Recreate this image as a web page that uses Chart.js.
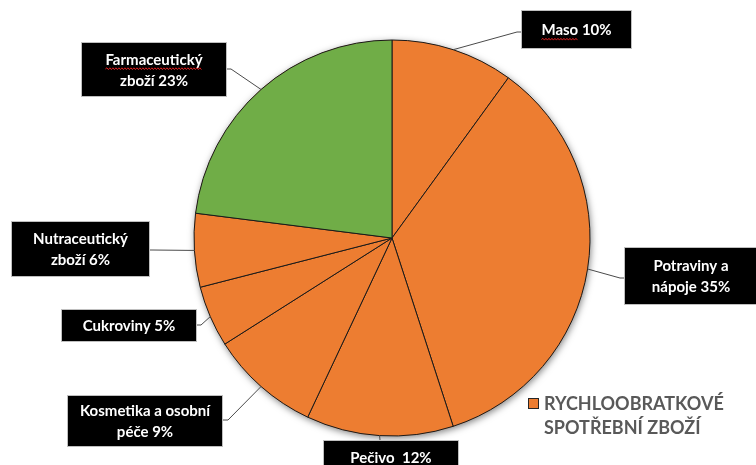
<!DOCTYPE html>
<html>
<head>
<meta charset="utf-8">
<script src="https://cdn.jsdelivr.net/npm/chart.js@4.4.1/dist/chart.umd.min.js"></script>
<style>
  html, body { margin: 0; padding: 0; background: #fff; }
  #wrap { width: 756px; height: 465px; }
</style>
</head>
<body>
<div id="wrap"><canvas id="pie" width="756" height="465"></canvas></div>
<script>
// shares of the market segments, clockwise from 12 o'clock
const categories = ['Maso', 'Potraviny a nápoje', 'Pečivo', 'Kosmetika a osobní péče', 'Cukroviny', 'Nutraceutický zboží', 'Farmaceutický zboží'];
const shares = [10, 35, 12, 9, 5, 6, 23];
const groups = ['fmcg', 'fmcg', 'fmcg', 'fmcg', 'fmcg', 'fmcg', 'pharma'];
const legendLines = ['RYCHLOOBRATKOVÉ', 'SPOTŘEBNÍ ZBOŽÍ'];

const groupColors = { fmcg: '#ED7D31', pharma: '#70AD47' };

// callout boxes: box rect, words on first line, leader elbow + attach point
const callouts = [
  { x: 521, y: 10,  w: 111, h: 39, words: 9, elbow: [517, 32], anchor: [521, 32], spell: true },
  { x: 624, y: 247, w: 134, h: 58, words: 2, elbow: [620, 278], anchor: [624, 278] },
  { x: 323, y: 440, w: 136, h: 34, words: 9, elbow: [380, 440], anchor: [380, 440], sep: '  ' },
  { x: 67,  y: 395, w: 156, h: 52, words: 3, elbow: [228, 420], anchor: [223, 420] },
  { x: 61,  y: 309, w: 136, h: 33, words: 9, elbow: [201, 325], anchor: [197, 325] },
  { x: 11,  y: 221, w: 139, h: 56, words: 1, elbow: [152, 250], anchor: [150, 250] },
  { x: 81,  y: 42,  w: 146, h: 55, words: 1, elbow: [231, 69],  anchor: [227, 69], spell: true }
];

const FONT = 'Lato, "Open Sans", sans-serif';

function labelLines(i) {
  const c = callouts[i];
  const words = categories[i].split(' ');
  words.push(shares[i] + '%');
  const n = c.words;
  if (n >= words.length) {
    return [words.slice(0, -1).join(' ') + (c.sep || ' ') + words[words.length - 1]];
  }
  return [words.slice(0, n).join(' '), words.slice(n).join(' ')];
}

function squiggle(ctx, x0, x1, y) {
  ctx.beginPath();
  ctx.moveTo(x0, y);
  let up = true;
  for (let x = x0 + 1.5; x <= x1; x += 1.5) {
    ctx.lineTo(x, up ? y - 1.2 : y + 0.6);
    up = !up;
  }
  ctx.strokeStyle = '#e02020';
  ctx.lineWidth = 1;
  ctx.stroke();
}

// soft drop shadow under the whole disc
const discShadow = {
  id: 'discShadow',
  beforeDatasetsDraw(chart) {
    const arc = chart.getDatasetMeta(0).data[0];
    if (!arc) return;
    const { x, y, outerRadius } = arc.getProps(['x', 'y', 'outerRadius'], true);
    const ctx = chart.ctx;
    ctx.save();
    ctx.shadowColor = 'rgba(0,0,0,0.5)';
    ctx.shadowBlur = 7;
    ctx.shadowOffsetX = 1;
    ctx.shadowOffsetY = 2;
    ctx.beginPath();
    ctx.arc(x, y, outerRadius, 0, Math.PI * 2);
    ctx.fillStyle = '#ED7D31';
    ctx.fill();
    ctx.restore();
  }
};

const calloutLabels = {
  id: 'calloutLabels',
  afterDraw(chart) {
    const ctx = chart.ctx;
    const arcs = chart.getDatasetMeta(0).data;
    ctx.save();
    arcs.forEach((arc, i) => {
      const c = callouts[i];
      const p = arc.getProps(['x', 'y', 'startAngle', 'endAngle', 'outerRadius'], true);
      const mid = (p.startAngle + p.endAngle) / 2;
      const ex = p.x + Math.cos(mid) * p.outerRadius;
      const ey = p.y + Math.sin(mid) * p.outerRadius;

      ctx.beginPath();
      ctx.moveTo(ex, ey);
      ctx.lineTo(c.elbow[0], c.elbow[1]);
      ctx.lineTo(c.anchor[0], c.anchor[1]);
      ctx.strokeStyle = '#4a4a4a';
      ctx.lineWidth = 1;
      ctx.stroke();

      ctx.fillStyle = '#000';
      ctx.fillRect(c.x, c.y, c.w, c.h);
      ctx.strokeStyle = '#bfbfbf';
      ctx.strokeRect(c.x + 0.5, c.y + 0.5, c.w - 1, c.h - 1);

      const lines = labelLines(i);
      const lh = 21;
      const cx = c.x + c.w / 2;
      const top = c.y + c.h / 2 - (lines.length - 1) * lh / 2;
      ctx.font = 'bold 15px ' + FONT;
      ctx.textAlign = 'center';
      ctx.textBaseline = 'middle';
      ctx.fillStyle = '#fff';
      lines.forEach((t, k) => ctx.fillText(t, cx, top + k * lh + 1));

      if (c.spell) {
        const first = lines[0].split(' ')[0];
        const full = ctx.measureText(lines[0]).width;
        const w = ctx.measureText(first).width;
        const x0 = cx - full / 2;
        squiggle(ctx, x0, x0 + w, top + 10);
      }
    });

    // legend entry for the orange segments
    ctx.fillStyle = '#ED7D31';
    ctx.fillRect(528, 398, 11, 11);
    ctx.strokeStyle = '#262626';
    ctx.lineWidth = 1;
    ctx.strokeRect(528.5, 398.5, 10, 10);
    ctx.font = 'bold 18px ' + FONT;
    ctx.textAlign = 'left';
    ctx.textBaseline = 'middle';
    ctx.fillStyle = '#595959';
    legendLines.forEach((t, k) => ctx.fillText(t, 544, 404 + k * 24));
    ctx.restore();
  }
};

new Chart(document.getElementById('pie'), {
  type: 'pie',
  data: {
    labels: categories,
    datasets: [{
      data: shares,
      backgroundColor: groups.map(g => groupColors[g]),
      borderColor: '#1a1a1a',
      borderWidth: 1,
      hoverOffset: 0
    }]
  },
  options: {
    responsive: false,
    animation: false,
    devicePixelRatio: 1,
    events: [],
    radius: 198,
    layout: { padding: { top: 40, bottom: 29, left: 28, right: 0 } },
    plugins: {
      legend: { display: false },
      tooltip: { enabled: false }
    }
  },
  plugins: [discShadow, calloutLabels]
});
</script>
</body>
</html>
